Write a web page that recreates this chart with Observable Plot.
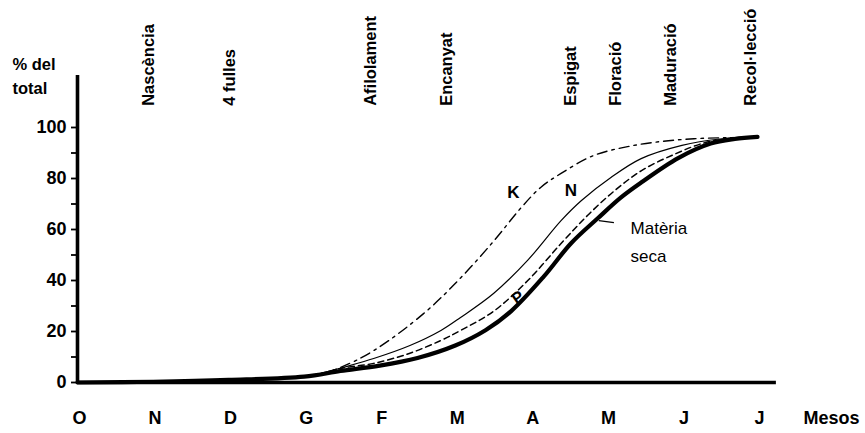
<!DOCTYPE html>
<html>
<head>
<meta charset="utf-8">
<script src="https://cdn.jsdelivr.net/npm/d3@7"></script>
<script src="https://cdn.jsdelivr.net/npm/@observablehq/plot@0.6"></script>
<style>
html,body{margin:0;padding:0;background:#fff;}
#chart svg{display:block;}
</style>
</head>
<body>
<div id="chart"></div>
<script>
// Month labels (Oct → Jul), x in months from October
const monthLabels = ["O","N","D","G","F","M","A","M","J","J"];
const monthPos = [0,1,2,3,4,5,6,7,8,9];

// Phenological stages and their position (months)
const stageNames = ["Nascència","4 fulles","Afilolament","Encanyat","Espigat","Floració","Maduració","Recol·lecció"];
const stagePos = [0.94, 2.01, 3.88, 4.89, 6.53, 7.13, 7.85, 8.91];

// Matèria seca (thick)
const dmX = [0, 1, 2, 3, 3.48, 4.0, 4.5, 5.0, 5.4, 5.74, 6.17, 6.53, 6.89, 7.19, 7.46, 7.95, 8.38, 8.7, 9];
const dmY = [0, 0.3, 1, 2.3, 4.5, 6.6, 9.6, 14.5, 20.5, 28, 41.5, 54.5, 64.5, 72.5, 78.4, 88, 93.7, 95.5, 96.3];

// N (thin solid)
const nX = [3.2, 3.5, 3.92, 4.4, 4.81, 5.07, 5.51, 5.96, 6.4, 6.67, 7.06, 7.46, 8.0, 8.5, 9];
const nY = [3.3, 5.8, 9.4, 14.5, 20.4, 25.5, 35, 48, 63.5, 71.4, 80.4, 87.8, 93, 95.5, 96.3];

// P (dashed)
const pX = [3.2, 3.5, 3.92, 4.4, 4.81, 5.07, 5.51, 5.96, 6.4, 6.75, 7.1, 7.46, 7.9, 8.3, 8.7, 9];
const pY = [3.3, 5.6, 7.5, 11.5, 16.5, 20.4, 28, 40, 54.5, 65.5, 75, 83, 89.5, 94, 95.8, 96.3];

// K (dash-dot)
const kX = [3.2, 3.48, 3.92, 4.58, 5.07, 5.51, 5.87, 6.13, 6.4, 6.83, 7.28, 7.72, 8.16, 8.6, 9];
const kY = [3.3, 5.9, 12.5, 27, 41, 55.5, 68.5, 76.5, 82, 89, 92.5, 94.5, 95.6, 96, 96.3];

// Curve labels [text, x(months), y(%)]
const curveLabels = [["K", 5.77, 74.5], ["N", 6.53, 75.3]];
const pLabel = ["P", 5.83, 33.3];
const dmLabel = ["Matèria", "seca"];

const toRows = (xs, ys) => xs.map((x, i) => ({x, y: ys[i]}));

const FONT = "'Liberation Sans', Arial, Helvetica, sans-serif";

const chart = Plot.plot({
  width: 865,
  height: 433,
  marginLeft: 77,
  marginRight: 108,
  marginTop: 127,
  marginBottom: 51,
  style: {fontFamily: FONT, background: "#fff", color: "#000", overflow: "visible"},
  x: {type: "linear", domain: [0, 9], axis: null},
  y: {type: "linear", domain: [0, 100], axis: null},
  marks: [
    // y axis ticks
    Plot.axisY({ticks: [10,30,50,70,90], tickFormat: () => "", tickSize: 6, strokeWidth: 1.8, label: null, anchor: "left"}),
    Plot.axisY({ticks: [0,20,40,60,80,100], tickSize: 6, tickPadding: 5, fontSize: 18, fontWeight: "bold", strokeWidth: 1.8, label: null, anchor: "left"}),
    Plot.ruleX([0], {y1: 0, y2: 120.4, stroke: "#000", strokeWidth: 3.6}),
    Plot.ruleY([0], {x1: 0, x2: 9.25, stroke: "#000", strokeWidth: 3.6}),
    // x labels
    Plot.text(monthPos, {x: d => d, y: () => 0, dy: 36, dx: 2, text: (d, i) => monthLabels[i], fontSize: 18, fontWeight: "bold", fill: "#000"}),
    Plot.text(["Mesos"], {x: () => 9.98, y: () => 0, dy: 36, text: d => d, fontSize: 18, fontWeight: "bold", fill: "#000"}),
    // y title
    Plot.text(["% del", "total"], {x: () => -0.86, y: (d, i) => i === 0 ? 124.7 : 115.3, text: d => d, textAnchor: "start", fontSize: 16.5, fontWeight: "bold", fill: "#000"}),
    // stage labels
    Plot.text(stageNames, {x: (d, i) => stagePos[i], y: () => 108.5, text: d => d, rotate: -90, textAnchor: "start", fontSize: 16.5, fontWeight: "bold", fill: "#000"}),
    // curves
    Plot.line(toRows(kX, kY), {x: "x", y: "y", curve: "catmull-rom", stroke: "#000", strokeWidth: 1.4, strokeDasharray: "10,5,2.5,5"}),
    Plot.line(toRows(nX, nY), {x: "x", y: "y", curve: "catmull-rom", stroke: "#000", strokeWidth: 1.2}),
    Plot.line(toRows(pX, pY), {x: "x", y: "y", curve: "catmull-rom", stroke: "#000", strokeWidth: 1.5, strokeDasharray: "6,4"}),
    Plot.line(toRows(dmX, dmY), {x: "x", y: "y", curve: "catmull-rom", stroke: "#000", strokeWidth: 4.2}),
    // curve labels
    Plot.text(curveLabels, {x: d => d[1], y: d => d[2], text: d => d[0], fontSize: 17, fontWeight: "bold", fill: "#000"}),
    Plot.text([pLabel], {x: d => d[1], y: d => d[2], text: d => d[0], fontSize: 16, fontWeight: "bold", fill: "#000", rotate: -35}),
    Plot.text(dmLabel, {x: () => 7.32, y: (d, i) => i === 0 ? 60.4 : 49.4, text: d => d, textAnchor: "start", fontSize: 17, fill: "#000"}),
    Plot.link([0], {x1: () => 6.9, y1: () => 63.5, x2: () => 7.1, y2: () => 62.7, stroke: "#000", strokeWidth: 1.3})
  ]
});
document.getElementById("chart").appendChild(chart);
</script>
</body>
</html>
